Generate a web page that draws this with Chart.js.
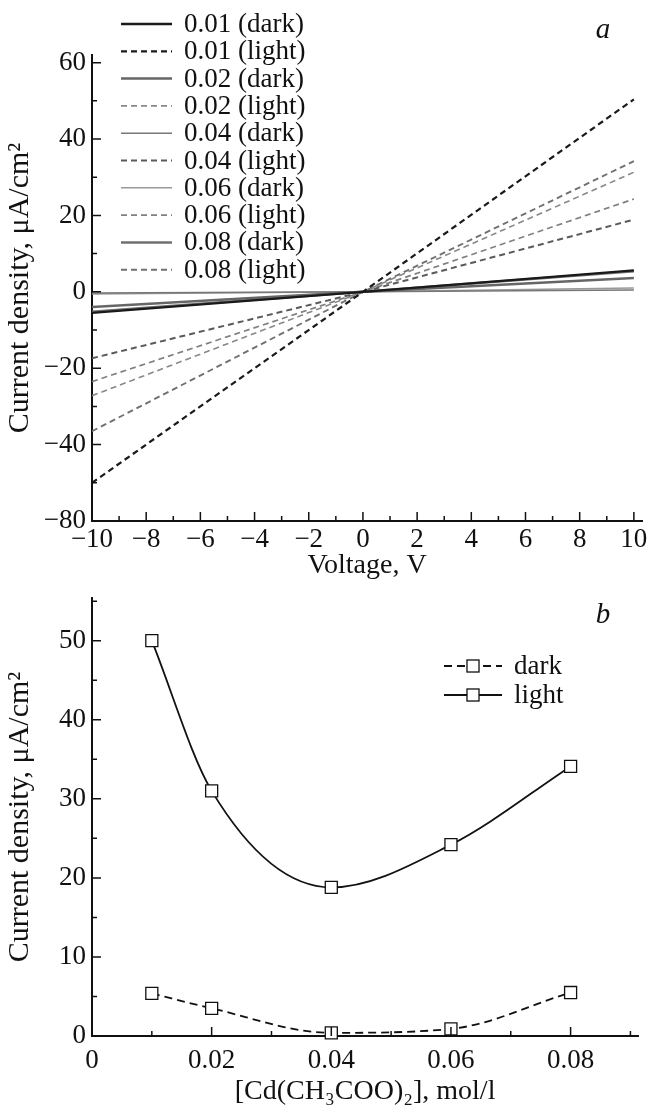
<!DOCTYPE html>
<html>
<head>
<meta charset="utf-8">
<script src="https://cdn.jsdelivr.net/npm/chart.js@4.4.1/dist/chart.umd.min.js"></script>
<style>
  html, body { margin: 0; padding: 0; background: #fff; }
  .panel { position: relative; width: 648px; }
  #panelA { height: 580px; }
  #panelB { height: 526px; }
</style>
</head>
<body>
<div class="panel" id="panelA"><canvas id="ivChart"></canvas></div>
<div class="panel" id="panelB"><canvas id="concChart"></canvas></div>
<script>
// panel a: current density vs voltage, one straight line per sample
const voltage = [-10, 0, 10];
const dark001 = [-5.5, 0, 5.6];
const light001 = [-50, 0, 50.4];
const dark002 = [-4.0, 0, 3.6];
const light002 = [-27.2, 0, 31.3];
const dark004 = [-0.3, 0, 0.5];
const light004 = [-17.4, 0, 18.9];
const dark006 = [-0.6, 0, 1.0];
const light006 = [-23.5, 0, 24.3];
const dark008 = [-5.2, 0, 5.4];
const light008 = [-36.5, 0, 34.2];

const voltTicks = [-10, -9, -8, -7, -6, -5, -4, -3, -2, -1, 0, 1, 2, 3, 4, 5, 6, 7, 8, 9, 10];
const voltTickLabels = ['−10', '', '−8', '', '−6', '', '−4', '', '−2', '', '0', '', '2', '', '4', '', '6', '', '8', '', '10'];
const jaTicks = [-60, -50, -40, -30, -20, -10, 0, 10, 20, 30, 40, 50, 60];
const jaTickLabels = ['−80', '', '−40', '', '−20', '', '0', '', '20', '', '40', '', '60'];

// panel b: current density at 10 V vs Cd acetate concentration
const conc = [0.01, 0.02, 0.04, 0.06, 0.08];
const darkAt10V = [5.4, 3.5, 0.4, 0.9, 5.5];
const lightAt10V = [50, 31, 18.8, 24.2, 34.1];

const concTicks = [0, 0.01, 0.02, 0.03, 0.04, 0.05, 0.06, 0.07, 0.08, 0.09];
const concTickLabels = ['0', '', '0.02', '', '0.04', '', '0.06', '', '0.08', ''];
const jbTicks = [0, 5, 10, 15, 20, 25, 30, 35, 40, 45, 50, 55];
const jbTickLabels = ['0', '', '10', '', '20', '', '30', '', '40', '', '50', ''];

const SERIF = '"Liberation Serif", "Times New Roman", serif';
const INK = '#111';
const FS = 27;

const pts = (xs, ys) => xs.map((x, i) => ({ x: x, y: ys[i] }));

// ticks drawn inward from the axis lines, longer where the tick has a label
const innerTicks = {
  id: 'innerTicks',
  afterDraw(chart) {
    const ctx = chart.ctx, area = chart.chartArea;
    ctx.save();
    ctx.strokeStyle = INK;
    ctx.lineWidth = 1.5;
    ctx.beginPath();
    Object.values(chart.scales).forEach(scale => {
      scale.ticks.forEach(t => {
        const len = t.label !== '' ? 9 : 5;
        const p = scale.getPixelForValue(t.value);
        if (scale.isHorizontal()) {
          ctx.moveTo(p, area.bottom);
          ctx.lineTo(p, area.bottom - len);
        } else {
          ctx.moveTo(area.left, p);
          ctx.lineTo(area.left + len, p);
        }
      });
    });
    ctx.stroke();
    ctx.restore();
  }
};

const panelLegend = {
  id: 'panelLegend',
  afterDraw(chart, args, o) {
    const ctx = chart.ctx;
    ctx.save();
    ctx.font = FS + 'px ' + SERIF;
    ctx.textBaseline = 'middle';
    chart.data.datasets.forEach((ds, i) => {
      const y = o.top + i * o.rowH;
      ctx.strokeStyle = ds.borderColor;
      ctx.lineWidth = ds.borderWidth;
      ctx.setLineDash(ds.borderDash || []);
      ctx.beginPath();
      ctx.moveTo(o.left, y);
      ctx.lineTo(o.left + o.lineW, y);
      ctx.stroke();
      ctx.setLineDash([]);
      if (ds.pointRadius) {
        const s = ds.pointRadius * Math.SQRT1_2;
        const cx = o.left + o.lineW / 2;
        ctx.fillStyle = ds.pointBackgroundColor;
        ctx.strokeStyle = ds.pointBorderColor;
        ctx.lineWidth = ds.pointBorderWidth;
        ctx.fillRect(cx - s, y - s, 2 * s, 2 * s);
        ctx.strokeRect(cx - s, y - s, 2 * s, 2 * s);
      }
      ctx.fillStyle = INK;
      ctx.fillText(ds.label, o.left + o.lineW + o.gap, y + 1);
    });
    ctx.restore();
  }
};

const panelTag = {
  id: 'panelTag',
  afterDraw(chart, args, o) {
    const ctx = chart.ctx;
    ctx.save();
    ctx.font = 'italic 29px ' + SERIF;
    ctx.fillStyle = INK;
    ctx.textAlign = 'center';
    ctx.textBaseline = 'middle';
    ctx.fillText(o.text, o.x, o.y);
    ctx.restore();
  }
};

function ivLine(label, ys, color, width, dash) {
  return {
    label: label,
    data: pts(voltage, ys),
    borderColor: color,
    borderWidth: width,
    borderDash: dash,
    pointRadius: 0,
    tension: 0
  };
}

const dashed = [6, 4];

function axisOpts(ticks, labels, min, max, titleText, titleSize, titlePad, tickPad) {
  return {
    type: 'linear',
    min: min,
    max: max,
    afterBuildTicks: s => { s.ticks = ticks.map(v => ({ value: v })); },
    grid: { display: false },
    border: { display: true, color: INK, width: 2 },
    ticks: {
      autoSkip: false,
      maxRotation: 0,
      padding: tickPad,
      color: INK,
      font: { family: SERIF, size: FS },
      callback: (v, i) => labels[i]
    },
    title: {
      display: true,
      text: titleText,
      color: INK,
      padding: titlePad,
      font: { family: SERIF, size: titleSize }
    }
  };
}

const common = {
  responsive: true,
  maintainAspectRatio: false,
  animation: false,
  events: [],
  plugins: { legend: { display: false }, tooltip: { enabled: false } }
};

// panel a
const xa = axisOpts(voltTicks, voltTickLabels, -10, 10.3, 'Voltage, V', 28, { top: 0, bottom: -2 }, -5);
xa.afterFit = s => { s.height = 59; };
const ya = axisOpts(jaTicks, jaTickLabels, -60, 62, 'Current density, μA/cm²', 30, { top: 2, bottom: 0 }, -2);
ya.afterFit = s => { s.width = 92; };

new Chart(document.getElementById('ivChart'), {
  type: 'line',
  data: {
    datasets: [
      ivLine('0.01 (dark)', dark001, '#1a1a1a', 2.3, []),
      ivLine('0.01 (light)', light001, '#1a1a1a', 2.2, dashed),
      ivLine('0.02 (dark)', dark002, '#666', 2.5, []),
      ivLine('0.02 (light)', light002, '#888', 1.6, dashed),
      ivLine('0.04 (dark)', dark004, '#777', 1.5, []),
      ivLine('0.04 (light)', light004, '#5a5a5a', 2, dashed),
      ivLine('0.06 (dark)', dark006, '#999', 1.5, []),
      ivLine('0.06 (light)', light006, '#808080', 1.7, dashed),
      ivLine('0.08 (dark)', dark008, '#707070', 2.5, []),
      ivLine('0.08 (light)', light008, '#707070', 1.9, dashed)
    ]
  },
  options: Object.assign({}, common, {
    layout: { padding: { top: 55, right: 6, left: 0, bottom: 0 } },
    scales: { x: xa, y: ya },
    plugins: Object.assign({}, common.plugins, {
      panelLegend: { left: 121, top: 24, rowH: 27.3, lineW: 51, gap: 12 },
      panelTag: { text: 'a', x: 603, y: 30 }
    })
  }),
  plugins: [innerTicks, panelLegend, panelTag]
});

// panel b
function concLine(label, ys, dash) {
  return {
    label: label,
    data: pts(conc, ys),
    borderColor: INK,
    borderWidth: 1.8,
    borderDash: dash,
    cubicInterpolationMode: 'monotone',
    clip: false,
    pointStyle: 'rect',
    pointRadius: 8.5,
    pointBackgroundColor: '#fff',
    pointBorderColor: INK,
    pointBorderWidth: 1.3
  };
}

const xb = axisOpts(concTicks, concTickLabels, 0, 0.0913, '[Cd(CH₃COO)₂], mol/l', 28, { top: 0, bottom: -2 }, 1);
xb.afterFit = s => { s.height = 70; };
const yb = axisOpts(jbTicks, jbTickLabels, 0, 55.4, 'Current density, μA/cm²', 30, { top: 2, bottom: 0 }, -2);
yb.afterFit = s => { s.width = 92; };

new Chart(document.getElementById('concChart'), {
  type: 'line',
  data: {
    datasets: [
      concLine('dark', darkAt10V, [8, 5]),
      concLine('light', lightAt10V, [])
    ]
  },
  options: Object.assign({}, common, {
    layout: { padding: { top: 18, right: 6, left: 0, bottom: 0 } },
    scales: { x: xb, y: yb },
    plugins: Object.assign({}, common.plugins, {
      panelLegend: { left: 444, top: 86, rowH: 29, lineW: 58, gap: 12 },
      panelTag: { text: 'b', x: 603, y: 35 }
    })
  }),
  plugins: [innerTicks, panelLegend, panelTag]
});
</script>
</body>
</html>
